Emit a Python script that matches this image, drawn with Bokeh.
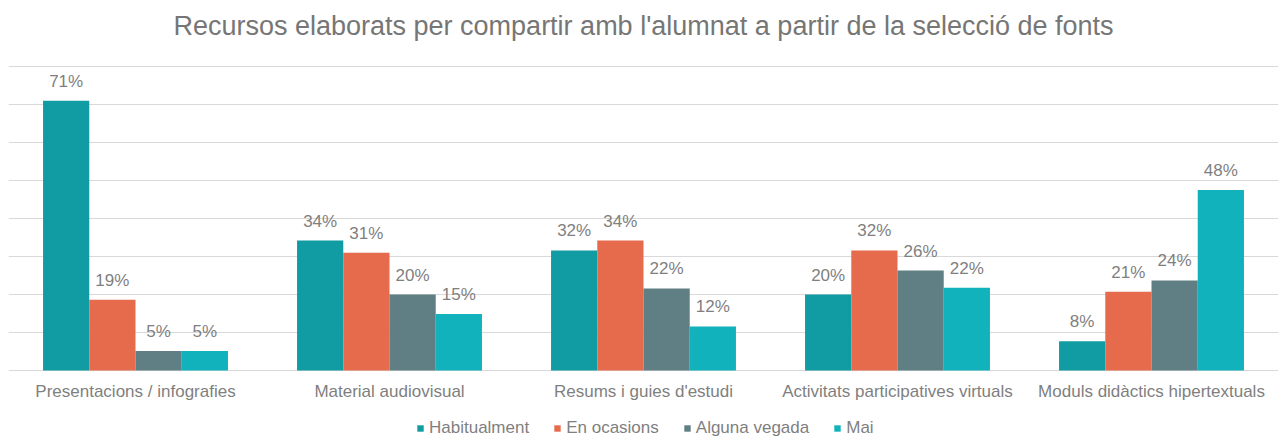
from bokeh.plotting import figure
from bokeh.models import ColumnDataSource, FactorRange, Range1d, Legend, LegendItem, CategoricalAxis
from bokeh.transform import dodge
from bokeh.core.properties import value
from bokeh.embed import file_html
from bokeh.resources import INLINE

title_text = "Recursos elaborats per compartir amb l'alumnat a partir de la selecció de fonts"
categories = ["Presentacions / infografies", "Material audiovisual", "Resums i guies d'estudi",
              "Activitats participatives virtuals", "Moduls didàctics hipertextuals"]
series = ["Habitualment", "En ocasions", "Alguna vegada", "Mai"]
habitualment = [71.0, 34.2, 31.6, 20.0, 7.7]
en_ocasions = [18.6, 31.0, 34.2, 31.6, 20.7]
alguna_vegada = [5.1, 20.0, 21.6, 26.3, 23.7]
mai = [5.1, 14.9, 11.6, 21.8, 47.5]
colors = ["#109CA2", "#E66A4C", "#607F84", "#11B2BC"]
y_ticks = [0, 10, 20, 30, 40, 50, 60, 70, 80]

FONT = "Liberation Sans"
PX = 3.8  # pixels per percentage point

p = figure(x_range=FactorRange(*categories, range_padding=0),
           y_range=Range1d(-68 / PX, 80 + 66 / PX),
           frame_width=1270, frame_height=438, output_backend="svg", toolbar_location=None,
           x_axis_location=None, y_axis_location=None,
           min_border_left=8, min_border_right=4, min_border_top=0, min_border_bottom=0,
           outline_line_color=None, background_fill_color="white", border_fill_color="white")

# title
p.text(x=[2.5], y=[80 + (66 - 25) / PX], text=[title_text], text_align="center",
       text_baseline="middle", text_font=value(FONT), text_font_size="27px", text_color="#767676")

data = dict(cat=categories)
vals = [habitualment, en_ocasions, alguna_vegada, mai]
for i, v in enumerate(vals):
    data["s%d" % i] = v
    data["l%d" % i] = ["%d%%" % round(x) for x in v]
src = ColumnDataSource(data)

bw = 0.182
offsets = [-1.5 * bw, -0.5 * bw, 0.5 * bw, 1.5 * bw]
renderers = []
for i in range(4):
    r = p.vbar(x=dodge("cat", offsets[i], range=p.x_range), top="s%d" % i, width=bw,
               source=src, fill_color=colors[i], line_color=None)
    renderers.append(r)
    p.text(x=dodge("cat", offsets[i], range=p.x_range), y="s%d" % i, text="l%d" % i,
           source=src, text_align="center", text_baseline="bottom", y_offset=-10,
           text_font=value(FONT), text_font_size="17px", text_color="#7F7F7F")

p.ygrid.ticker = y_ticks
p.ygrid.grid_line_color = "#D9D9D9"
p.ygrid.grid_line_width = 1
p.xgrid.visible = False

xaxis = CategoricalAxis(fixed_location=0)
xaxis.axis_line_color = None
xaxis.major_tick_line_color = None
xaxis.minor_tick_line_color = None
xaxis.major_label_text_font = FONT
xaxis.major_label_text_font_size = "17px"
xaxis.major_label_text_color = "#7F7F7F"
xaxis.major_label_standoff = 5
p.add_layout(xaxis, "below")

legend = Legend(items=[LegendItem(label=series[i], renderers=[renderers[i]]) for i in range(4)],
                orientation="horizontal", location=(408, 0),
                label_text_font=FONT, label_text_font_size="17px", label_text_color="#7F7F7F",
                glyph_width=8, glyph_height=8, label_standoff=5, spacing=24,
                padding=0, margin=0, border_line_color=None, background_fill_alpha=0)
p.add_layout(legend, "center")

open("out.html", "w").write(file_html(p, INLINE))
